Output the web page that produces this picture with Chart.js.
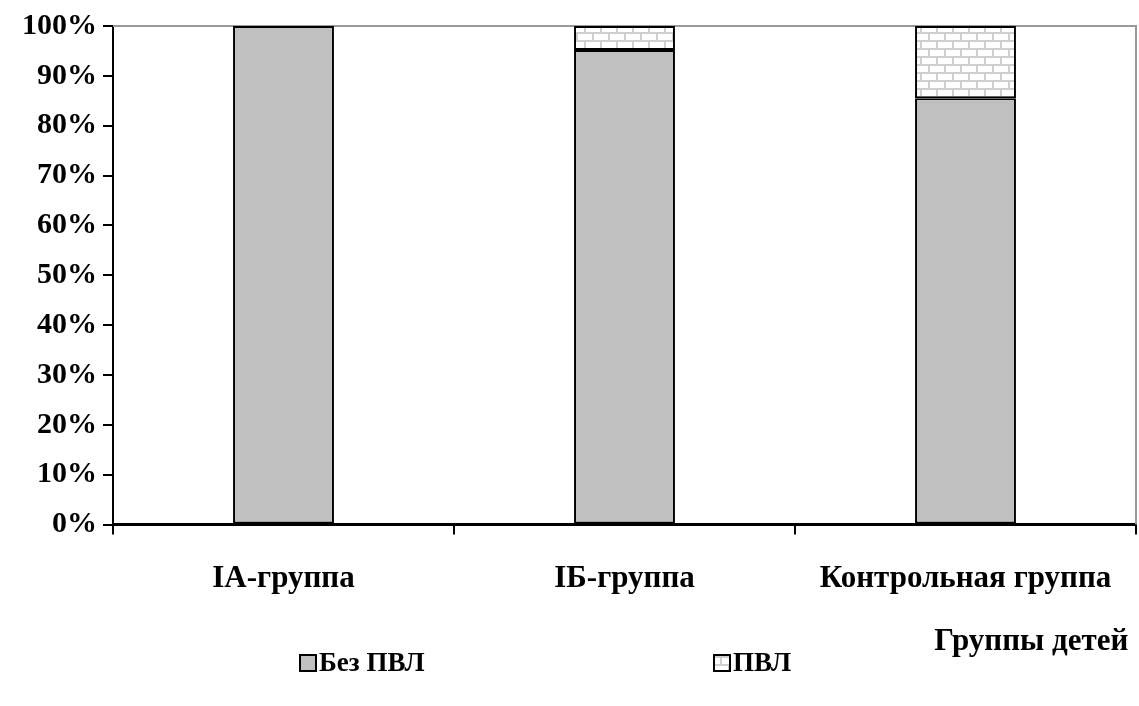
<!DOCTYPE html>
<html>
<head>
<meta charset="utf-8">
<title>Группы детей</title>
<script src="https://cdn.jsdelivr.net/npm/chart.js@4.4.0/dist/chart.umd.min.js"></script>
<style>
  html, body { margin: 0; padding: 0; background: #fff; }
  #wrap { width: 1139px; height: 706px; }
</style>
</head>
<body>
<div id="wrap"><canvas id="canvas" width="1139" height="706"></canvas></div>
<script>
// data
var categories = ['IА-группа', 'IБ-группа', 'Контрольная группа'];
var seriesNames = ['Без ПВЛ', 'ПВЛ'];
var withoutPvl = [100, 95.2, 85.5];
var withPvl = [0, 4.8, 14.5];

var FONT = '"Liberation Serif", "Times New Roman", serif';

// brick fill for the ПВЛ series
function makeBricks() {
    var c = document.createElement('canvas');
    c.width = 32; c.height = 16;
    var g = c.getContext('2d');
    g.fillStyle = '#ffffff';
    g.fillRect(0, 0, 32, 16);
    g.fillStyle = '#cfcfcf';
    g.fillRect(0, 0, 32, 2);
    g.fillRect(0, 8, 32, 2);
    g.fillRect(0, 0, 2, 8);
    g.fillRect(16, 0, 2, 8);
    g.fillRect(8, 8, 2, 8);
    g.fillRect(24, 8, 2, 8);
    return g.createPattern(c, 'repeat');
}
var bricks = makeBricks();
var fills = ['#c0c0c0', bricks];

// grey frame on top and right of the plot area
var framePlugin = {
    id: 'frame',
    beforeDatasetsDraw: function(chart) {
        var a = chart.chartArea, ctx = chart.ctx;
        ctx.save();
        ctx.strokeStyle = '#9a9a9a';
        ctx.lineWidth = 2;
        ctx.beginPath();
        ctx.moveTo(a.left, a.top);
        ctx.lineTo(a.right, a.top);
        ctx.lineTo(a.right, a.bottom);
        ctx.stroke();
        ctx.restore();
    }
};

// legend drawn at the bottom, items spread like the original
var legendPlugin = {
    id: 'wideLegend',
    afterDraw: function(chart) {
        var ctx = chart.ctx;
        var xs = [300, 714];
        var y = 663;
        ctx.save();
        ctx.font = 'bold 27px ' + FONT;
        ctx.textBaseline = 'middle';
        chart.data.datasets.forEach(function(ds, i) {
            var x = xs[i];
            ctx.fillStyle = ds.backgroundColor;
            ctx.fillRect(x, y - 8, 16, 16);
            ctx.strokeStyle = '#000';
            ctx.lineWidth = 2;
            ctx.strokeRect(x, y - 8, 16, 16);
            ctx.fillStyle = '#000';
            ctx.fillText(ds.label, x + 19, y + 1);
        });
        ctx.restore();
    }
};

var barData = {
    labels: categories,
    datasets: [
        {
            label: seriesNames[0],
            data: withoutPvl,
            backgroundColor: fills[0],
            borderColor: '#000',
            borderWidth: 2,
            borderSkipped: false
        },
        {
            label: seriesNames[1],
            data: withPvl,
            backgroundColor: fills[1],
            borderColor: '#000',
            borderWidth: 2,
            borderSkipped: false
        }
    ]
};

var options = {
    animation: false,
    responsive: false,
    layout: { padding: { left: 16, right: 3, top: 26, bottom: 45 } },
    datasets: { bar: { barPercentage: 0.296, categoryPercentage: 1 } },
    plugins: {
        legend: { display: false },
        tooltip: { enabled: false }
    },
    scales: {
        x: {
            stacked: true,
            grid: { offset: true, drawOnChartArea: false, drawTicks: true, tickLength: 10, color: '#000', lineWidth: 2 },
            border: { display: true, color: '#000', width: 3 },
            ticks: { color: '#000', font: { family: FONT, size: 31, weight: 'bold' }, padding: 26, maxRotation: 0 },
            title: {
                display: true, text: 'Группы детей ', align: 'end', color: '#000',
                font: { family: FONT, size: 31, weight: 'bold' }, padding: { top: 0, bottom: 0 }
            }
        },
        y: {
            stacked: true,
            min: 0, max: 100,
            grid: { drawOnChartArea: false, drawTicks: true, tickLength: 10, color: '#000', lineWidth: 2 },
            border: { display: true, color: '#000', width: 2 },
            ticks: {
                stepSize: 10, color: '#000', padding: 6,
                font: { family: FONT, size: 30, weight: 'bold' },
                callback: function(v) { return v + '%'; }
            }
        }
    }
};

window.onload = function() {
    var ctx = document.getElementById('canvas').getContext('2d');
    window.myBarChart = new Chart(ctx, {
        type: 'bar',
        data: barData,
        options: options,
        plugins: [framePlugin, legendPlugin]
    });
};
</script>
</body>
</html>
